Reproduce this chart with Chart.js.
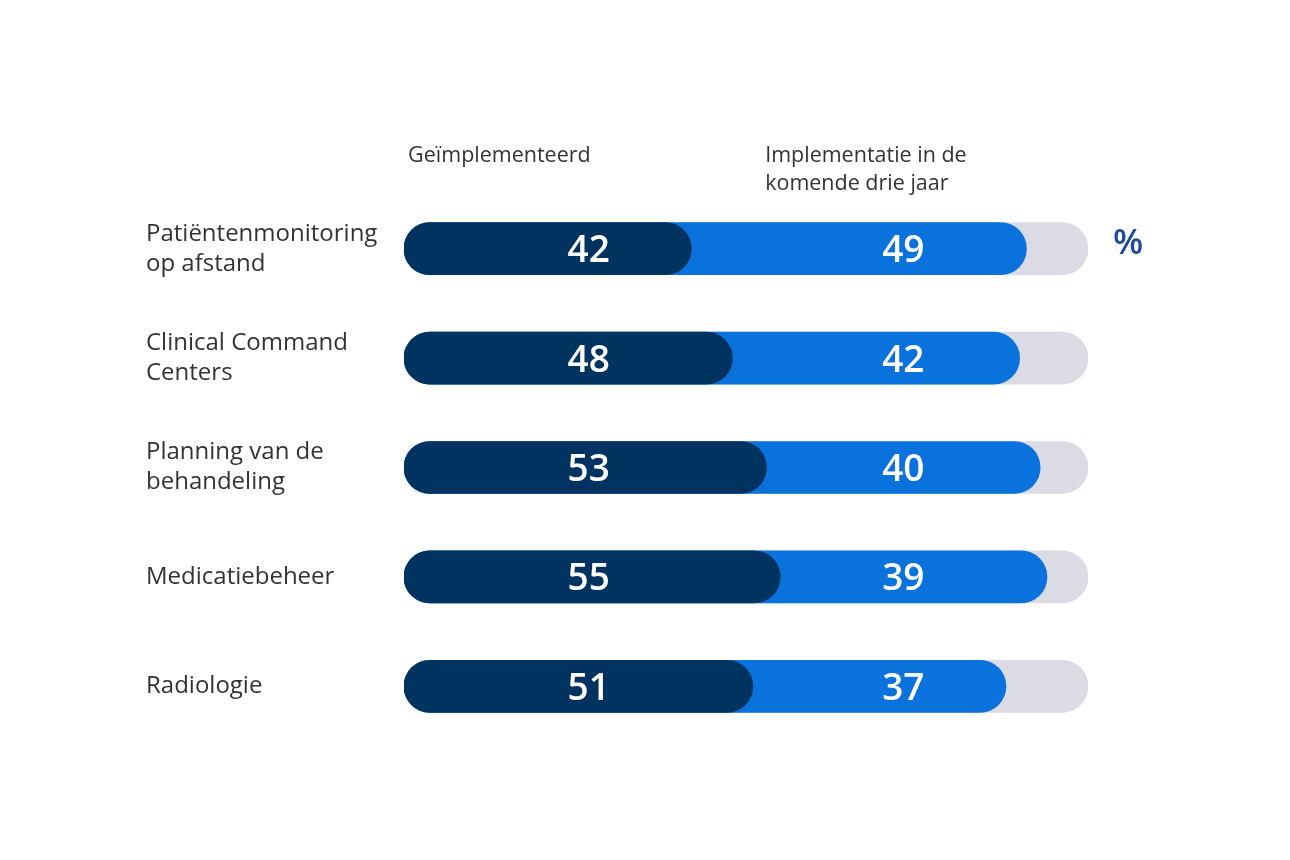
<!DOCTYPE html>
<html>
<head>
<meta charset="utf-8">
<script src="https://cdn.jsdelivr.net/npm/chart.js@4.4.1/dist/chart.umd.min.js"></script>
<style>
  html, body { margin: 0; padding: 0; background: #ffffff; }
  #wrap { width: 1290px; height: 860px; position: relative; }
</style>
</head>
<body>
<div id="wrap"><canvas id="c" width="1290" height="860"></canvas></div>
<script>
// ---- data ----
const categories = [
  ["Patiëntenmonitoring", "op afstand"],
  ["Clinical Command", "Centers"],
  ["Planning van de", "behandeling"],
  ["Medicatiebeheer"],
  ["Radiologie"]
];
const implemented = [42, 48, 53, 55, 51];
const nextThreeYears = [49, 42, 40, 39, 37];
const trackTotal = [100, 100, 100, 100, 100];
const headerImplemented = ["Geïmplementeerd"];
const headerPlanned = ["Implementatie in de", "komende drie jaar"];
const unitLabel = "%";

const stackedPlanned = implemented.map((v, i) => v + nextThreeYears[i]);

const TEXT = "#333333";
const FONT = "'Open Sans', 'Noto Sans', sans-serif";

const overlayPlugin = {
  id: "overlay",
  afterDatasetsDraw(chart) {
    const { ctx, chartArea, scales } = chart;
    const xs = scales.x, ys = scales.y;
    ctx.save();
    // value labels in two fixed columns
    ctx.fillStyle = "#ffffff";
    ctx.font = "600 37px " + FONT;
    ctx.textAlign = "center";
    ctx.textBaseline = "middle";
    const col1 = xs.getPixelForValue(27);
    const col2 = xs.getPixelForValue(73);
    categories.forEach((c, i) => {
      const y = ys.getPixelForValue(i) + 3;
      ctx.fillText(String(implemented[i]), col1, y);
      ctx.fillText(String(nextThreeYears[i]), col2, y);
    });
    // headers
    ctx.fillStyle = TEXT;
    ctx.font = "21.5px " + FONT;
    ctx.textAlign = "left";
    ctx.textBaseline = "middle";
    const hx1 = xs.getPixelForValue(0.6);
    const hx2 = xs.getPixelForValue(52.8);
    const hy = chartArea.top - 38;
    headerImplemented.forEach((t, k) => ctx.fillText(t, hx1, hy + k * 28));
    headerPlanned.forEach((t, k) => ctx.fillText(t, hx2, hy + k * 28));
    // percent unit
    ctx.fillStyle = "#1d4b97";
    ctx.font = "600 35px " + FONT;
    ctx.textAlign = "center";
    ctx.fillText(unitLabel, chartArea.right + 40, ys.getPixelForValue(0) - 5);
    ctx.restore();
  }
};

new Chart(document.getElementById("c"), {
  type: "bar",
  data: {
    labels: categories,
    datasets: [
      { label: "Geïmplementeerd", data: implemented, backgroundColor: "#00335f" },
      { label: "Implementatie in de komende drie jaar", data: stackedPlanned, backgroundColor: "#0a72dc" },
      { label: "Totaal", data: trackTotal, backgroundColor: "#dadbe4" }
    ]
  },
  options: {
    indexAxis: "y",
    responsive: false,
    animation: false,
    devicePixelRatio: 1,
    layout: { padding: { left: 146, right: 202, top: 194, bottom: 119 } },
    datasets: {
      bar: {
        grouped: false,
        barThickness: 52,
        borderRadius: 26,
        borderSkipped: false,
        borderWidth: 0
      }
    },
    scales: {
      x: {
        min: 0, max: 100,
        display: false,
        grid: { display: false }
      },
      y: {
        grid: { display: false },
        border: { display: false },
        afterFit(scale) { scale.width = 258; },
        ticks: {
          crossAlign: "far",
          padding: 0,
          color: TEXT,
          font: { family: FONT, size: 24, lineHeight: 1.25 },
          autoSkip: false
        }
      }
    },
    plugins: {
      legend: { display: false },
      tooltip: { enabled: false }
    }
  },
  plugins: [overlayPlugin]
});
</script>
</body>
</html>
